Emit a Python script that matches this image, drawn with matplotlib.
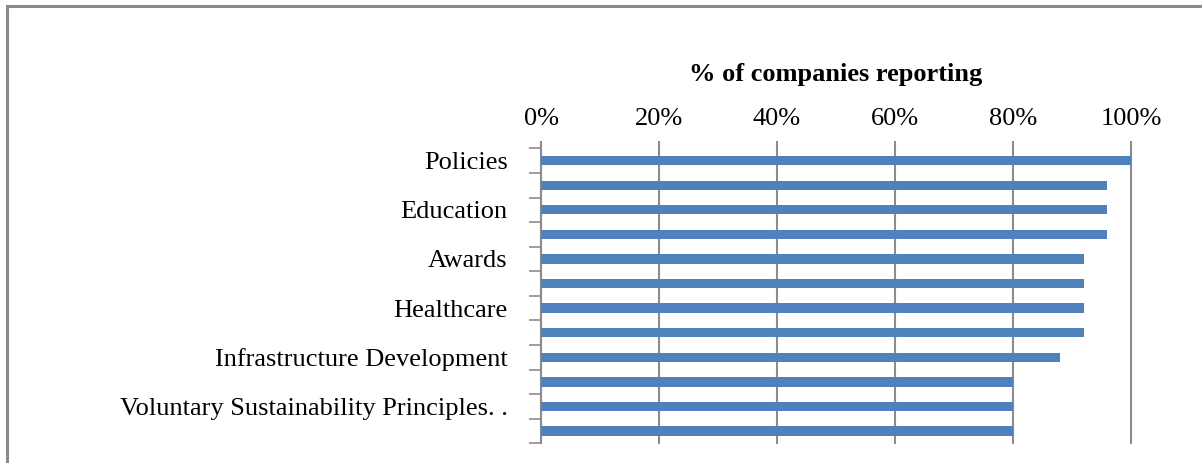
import numpy as np
import matplotlib
matplotlib.use('Agg')
import matplotlib.pyplot as plt
from matplotlib.patches import Rectangle

# categories, top to bottom (only every other one is labelled in the original)
labels = ['Policies', '', 'Education', '', 'Awards', '', 'Healthcare', '',
          'Infrastructure Development', '', 'Voluntary Sustainability Principles. .', '']
values = [100, 96, 96, 96, 92, 92, 92, 92, 88, 80, 80, 80]
xticks = [0, 20, 40, 60, 80, 100]

plt.rcParams['font.family'] = ['Liberation Serif', 'DejaVu Serif']

fig = plt.figure(figsize=(12.02, 4.63), dpi=100)
ax = fig.add_axes([0.4501, 0.0426, 0.4908, 0.6369])

grey = '#8c8c8c'
pos = np.arange(len(values))
ax.barh(pos, values, height=0.38, color='#4f81bd', zorder=3)

ax.set_xlim(0, 100)
ax.set_ylim(len(values) - 0.5, -0.5)

# value axis on top
ax.xaxis.tick_top()
ax.xaxis.set_label_position('top')
ax.set_xticks(xticks)
ax.set_xticklabels([str(t) + '%' for t in xticks], fontsize=19)
ax.tick_params(axis='x', length=5, width=1.5, color=grey, pad=8)
ax.set_xlabel('% of companies reporting', fontsize=19, fontweight='bold', labelpad=20)
ax.grid(axis='x', color=grey, linewidth=1.5, zorder=0)
for gl in ax.get_xgridlines():
    gl.set_clip_on(False)

# category axis: ticks at boundaries, labels in between
ax.set_yticks(np.arange(-0.5, len(values), 1.0))
ax.set_yticklabels([])
ax.tick_params(axis='y', which='major', length=9, width=1.2, color=grey)
ax.set_yticks(pos, minor=True)
ax.set_yticklabels(labels, minor=True, fontsize=19)
ax.tick_params(axis='y', which='minor', length=0, pad=24)

for s in ['top', 'right', 'bottom']:
    ax.spines[s].set_visible(False)
ax.spines['left'].set_color(grey)
ax.spines['left'].set_linewidth(1.5)

# outer chart frame (runs off the right and bottom edges)
fig.add_artist(Rectangle((0.0058, -0.1), 1.2, 1.087, transform=fig.transFigure,
                         fill=False, edgecolor='#8a8a8a', linewidth=2.2))

fig.savefig('out.png', dpi=100)
